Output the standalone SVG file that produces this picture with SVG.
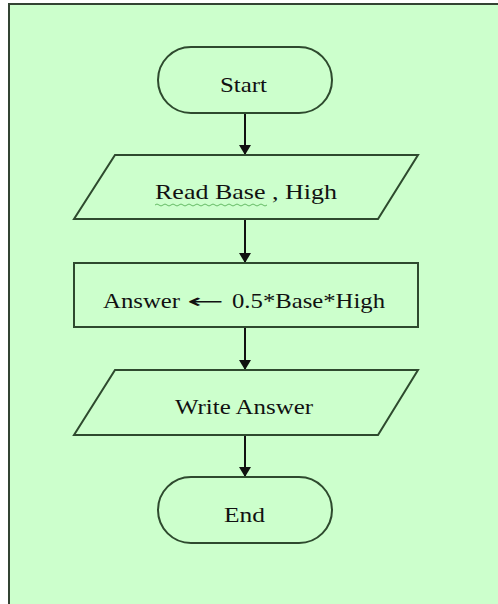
<svg xmlns="http://www.w3.org/2000/svg" width="498" height="604" viewBox="0 0 498 604">
  <style>
    .shape { fill: #ccffcc; stroke: #2e4a2e; stroke-width: 2; }
    .label { font-family: "Liberation Serif", "Times New Roman", serif; font-size: 22px; fill: #111; }
    .conn { stroke: #111; stroke-width: 2; fill: none; }
  </style>
  <defs>
    <marker id="arrow" viewBox="0 0 10 12" refX="10" refY="6" markerWidth="10" markerHeight="12" markerUnits="userSpaceOnUse" orient="auto">
      <path d="M0,0 L10,6 L0,12 Z" fill="#111"/>
    </marker>
  </defs>
  <rect x="0" y="0" width="498" height="604" fill="#ffffff"/>
  <rect x="9" y="4" width="500" height="610" fill="#ccffcc" stroke="#334433" stroke-width="2"/>

  <g id="connectors">
    <line class="conn" x1="245" y1="113" x2="245" y2="155" marker-end="url(#arrow)"/>
    <line class="conn" x1="245" y1="219" x2="245" y2="263" marker-end="url(#arrow)"/>
    <line class="conn" x1="245" y1="327" x2="245" y2="370" marker-end="url(#arrow)"/>
    <line class="conn" x1="245" y1="435" x2="245" y2="477" marker-end="url(#arrow)"/>
  </g>

  <g id="start">
    <rect class="shape" x="158" y="47" width="174" height="66" rx="33" ry="33"/>
    <text class="label" x="220" y="92" textLength="47" lengthAdjust="spacingAndGlyphs">Start</text>
  </g>

  <g id="read">
    <polygon class="shape" points="115,155 418,155 378,219 74,219"/>
    <text class="label" x="155" y="199" textLength="182" lengthAdjust="spacingAndGlyphs">Read Base , High</text>
    <path d="M155,205 q2,-2 4,0 t4,0 t4,0 t4,0 t4,0 t4,0 t4,0 t4,0 t4,0 t4,0 t4,0 t4,0 t4,0 t4,0 t4,0 t4,0 t4,0 t4,0 t4,0 t4,0 t4,0 t4,0 t4,0 t4,0 t4,0 t4,0 t4,0 t4,0" fill="none" stroke="#66bb66" stroke-width="1"/>
  </g>

  <g id="compute">
    <rect class="shape" x="74" y="263" width="344" height="64"/>
    <text class="label" x="103" y="308" textLength="77" lengthAdjust="spacingAndGlyphs">Answer</text>
    <text class="label" x="187" y="308" textLength="37" lengthAdjust="spacingAndGlyphs" style="font-family:'DejaVu Sans', sans-serif; font-size:20px;">←</text>
    <text class="label" x="232" y="308" textLength="153" lengthAdjust="spacingAndGlyphs">0.5*Base*High</text>
  </g>

  <g id="write">
    <polygon class="shape" points="115,370 418,370 378,435 74,435"/>
    <text class="label" x="175" y="414" textLength="138" lengthAdjust="spacingAndGlyphs">Write Answer</text>
  </g>

  <g id="end">
    <rect class="shape" x="158" y="477" width="174" height="66" rx="33" ry="33"/>
    <text class="label" x="224" y="522" textLength="41" lengthAdjust="spacingAndGlyphs">End</text>
  </g>
</svg>
